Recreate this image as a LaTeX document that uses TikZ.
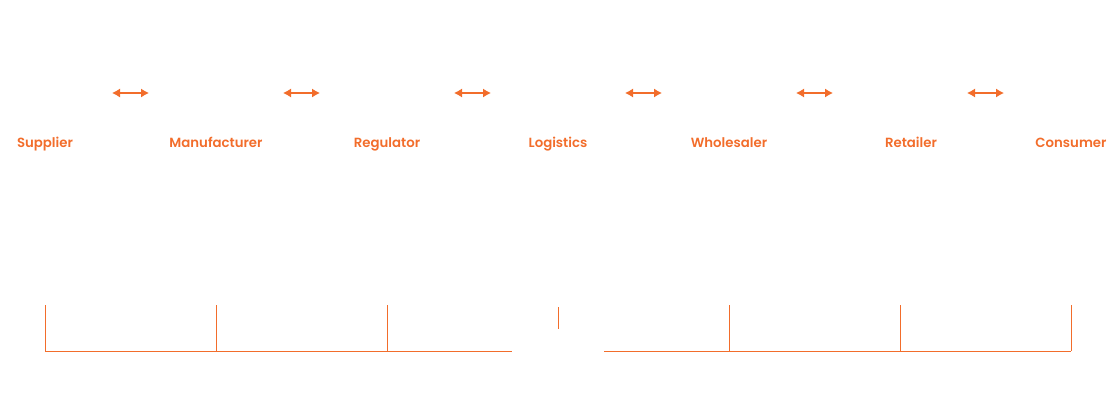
\documentclass[tikz,border=0pt]{standalone}
\usepackage{fontspec}
\usepackage{xcolor}
\newfontfamily\lblfont{Poppins SemiBold}
\definecolor{chainorange}{HTML}{F26D2B}
\usetikzlibrary{arrows.meta, positioning, calc}

\begin{document}
\begin{tikzpicture}[x=1pt, y=-1pt,
  lbl/.style={text=chainorange, font=\lblfont\fontsize{13.3}{15}\selectfont, inner sep=0pt, anchor=base},
  link/.style={{Latex[length=8pt,width=9pt]}-{Latex[length=8pt,width=9pt]}, chainorange, line width=1.1pt},
  rail/.style={chainorange, line width=1pt}
]
  \useasboundingbox (0,0) rectangle (1116,402);

  % stage labels
  \node[lbl] (sup) at (45,147.5)  {Supplier};
  \node[lbl] (man) at (216,147.5) {Manufacturer};
  \node[lbl] (reg) at (387,147.5) {Regulator};
  \node[lbl] (log) at (558,147.5) {Logistics};
  \node[lbl] (who) at (729,147.5) {Wholesaler};
  \node[lbl] (ret) at (911,147.5) {Retailer};
  \node[lbl] (con) at (1071,147.5){Consumer};

  % two-way links
  \foreach \x [count=\i] in {130.5,301.5,472.5,643.5,814.5,985.5}{
    \coordinate (l\i) at (\x-18.5,93);
    \coordinate (r\i) at (\x+18.5,93);
    \draw[link] (l\i) -- (r\i);
  }

  % timeline rail
  \foreach \x [count=\i] in {45,216,387,729,900,1071}{
    \coordinate (tt\i) at (\x,305);
    \coordinate (tb\i) at (\x,351);
    \draw[rail] (tt\i) -- (tb\i);
  }
  \coordinate (gapl) at (512,351);
  \coordinate (gapr) at (604,351);
  \coordinate (midt) at (558,307);
  \coordinate (midb) at (558,329);
  \draw[rail] (tb1) -- (gapl);
  \draw[rail] (gapr) -- (tb6);
  \draw[rail] (midt) -- (midb);
\end{tikzpicture}
\end{document}
